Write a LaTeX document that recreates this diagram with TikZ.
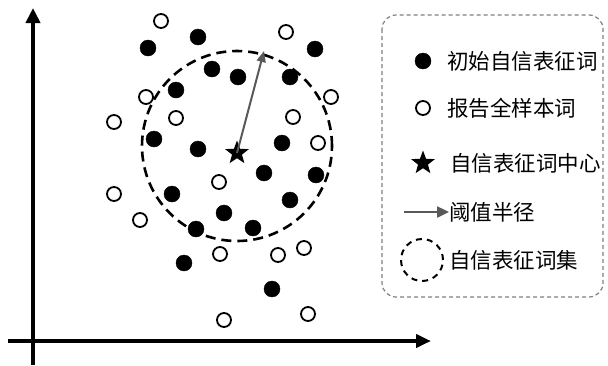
\documentclass[tikz,border=0pt]{standalone}
\usepackage{fontspec}
\newfontfamily\cjk{Noto Sans CJK SC}
\usetikzlibrary{arrows.meta,shapes.geometric}

\tikzset{
  seedword/.style={circle, fill=black, draw=black, minimum size=16pt, inner sep=0pt},
  sampleword/.style={circle, draw=black, line width=1.8pt, minimum size=14pt, inner sep=0pt},
  centerstar/.style={star, star points=5, star point ratio=2.4, fill=black, minimum size=25pt, inner sep=0pt},
  legendtext/.style={anchor=west, inner sep=0pt, font=\cjk\fontsize{21.5}{25}\selectfont}
}

\begin{document}
\begin{tikzpicture}[x=1pt,y=-1pt]
    \useasboundingbox (0,0) rectangle (608,365);

    % axes
    \coordinate (xstart) at (8,341);
    \coordinate (xend) at (431,341);
    \coordinate (ystart) at (33,365);
    \coordinate (yend) at (33,8);
    \draw[line width=4pt, -{Triangle[length=15pt,width=13pt]}] (xstart) -- (xend);
    \draw[line width=4pt, -{Triangle[length=15pt,width=14pt]}] (ystart) -- (yend);

    % report sample words
    \foreach \x/\y in {161/21, 286/32, 146/97, 331/97, 176/118, 293/117, 114/122,
                       318/143, 219/182, 114/194, 140/220, 220/254, 278/255,
                       304/248, 224/320, 308/314}
        \node[sampleword] at (\x,\y) {};

    % threshold circle
    \draw[line width=2.6pt, dash pattern=on 10pt off 6pt] (237,146) circle[radius=95pt];

    % initial seed words
    \foreach \x/\y in {148/48, 198/37, 315/49, 212/69, 238/77, 290/77, 176/90,
                       154/139, 198/149, 282/143, 264/173, 316/175, 172/194,
                       290/200, 224/213, 196/229, 253/228, 184/263, 272/289}
        \node[seedword] at (\x,\y) {};

    % center and radius
    \node[centerstar] (center) at (237,153) {};
    \coordinate (rim) at (264,51);
    \draw[gray!70!black, line width=2pt, -{Triangle[length=11pt,width=9pt]}] (center.center) -- (rim);

    % legend
    \draw[gray, line width=1.2pt, dash pattern=on 4pt off 3pt, rounded corners=14pt]
        (382,15) rectangle (603,297);

    \node[seedword] (lseed) at (423,61) {};
    \node[legendtext] (tseed) at (447,61) {初始自信表征词};

    \node[sampleword] (lsample) at (423,108) {};
    \node[legendtext] (tsample) at (447,108) {报告全样本词};

    \node[centerstar] (lstar) at (423,163) {};
    \node[legendtext] (tstar) at (450,163) {自信表征词中心};

    \coordinate (larrow) at (404,212);
    \node[legendtext] (tradius) at (449,212) {阈值半径};
    \draw[gray!70!black, line width=2.4pt, -{Triangle[length=12pt,width=11pt]}] (larrow) -- (tradius.west);

    \draw[line width=2pt, dash pattern=on 6pt off 5pt] (422,260) circle[radius=21pt];
    \node[legendtext] (tset) at (449,260) {自信表征词集};
\end{tikzpicture}
\end{document}
